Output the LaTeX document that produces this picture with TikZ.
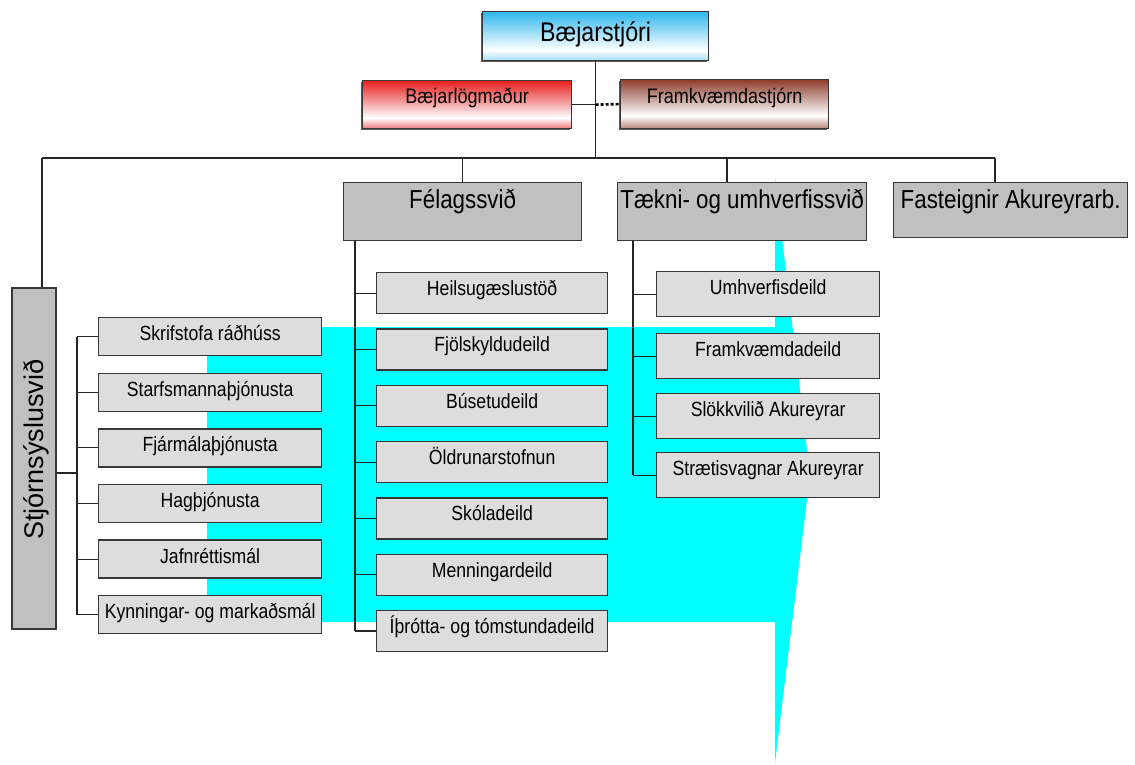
\documentclass[tikz,border=0pt]{standalone}
\usepackage{fontspec}
\setmainfont{Liberation Sans}[FakeStretch=0.86]
\newfontfamily\plainsans{Liberation Sans}
\usetikzlibrary{shadows}

\definecolor{aqua}{HTML}{00FFFF}
\definecolor{majorfill}{HTML}{C0C0C0}
\definecolor{subfill}{HTML}{DDDDDD}
\definecolor{edge}{HTML}{383838}
\definecolor{skyc}{HTML}{2DB6EE}
\definecolor{skyl}{HTML}{A8DDF6}
\definecolor{redc}{HTML}{E81E1E}
\definecolor{redl}{HTML}{F07878}
\definecolor{brownc}{HTML}{8E3E2E}
\definecolor{brownl}{HTML}{B8847A}

% vertical shadings: 25bp = bottom edge, 75bp = top edge
\pgfdeclareverticalshading{skyshade}{100bp}{color(0bp)=(skyl); color(25bp)=(skyl); color(36bp)=(white); color(75bp)=(skyc); color(100bp)=(skyc)}
\pgfdeclareverticalshading{redshade}{100bp}{color(0bp)=(redl); color(25bp)=(redl); color(36bp)=(white); color(75bp)=(redc); color(100bp)=(redc)}
\pgfdeclareverticalshading{brownshade}{100bp}{color(0bp)=(brownl); color(25bp)=(brownl); color(38bp)=(white); color(75bp)=(brownc); color(100bp)=(brownc)}

\tikzset{
  headbox/.style={draw=edge, line width=1.2pt, inner sep=0pt, anchor=north west,
    drop shadow={shadow xshift=-1.5pt, shadow yshift=-1.5pt, fill=black!65, opacity=1}},
  majorbox/.style={draw=edge, line width=1.3pt, fill=majorfill, inner sep=0pt, anchor=north west,
    font=\fontsize{26}{30}\selectfont, text height=26pt, text depth=32pt},
  subbox/.style={draw=edge, line width=1.3pt, fill=subfill, inner sep=0pt, anchor=north west,
    font=\fontsize{20.5}{24}\selectfont, text height=23pt},
  conn/.style={draw=black!85, line width=1.1pt},
  dotconn/.style={draw=black, line width=2.6pt, dash pattern=on 3pt off 2pt}
}

\begin{document}
\begin{tikzpicture}[x=1pt, y=-1pt]
\useasboundingbox[fill=white] (0,0) rectangle (1135,764);

% highlighted region behind the lower part of the chart
\fill[aqua] (207,327) -- (775,327) -- (775,178) -- (810,475) -- (775,763)
  -- (775,622) -- (207,622) -- cycle;

% top level
\node[headbox, shading=skyshade, minimum width=226pt, text height=30pt, text depth=19pt,
  font=\fontsize{27}{32}\selectfont] (bst) at (482,11) {Bæjarstjóri};
\node[headbox, shading=redshade, minimum width=209pt, text height=23pt, text depth=25pt,
  font=\fontsize{21}{25}\selectfont] (blm) at (362,80) {Bæjarlögmaður};
\node[headbox, shading=brownshade, minimum width=208pt, text height=24pt, text depth=25pt,
  font=\fontsize{21}{25}\selectfont] (fks) at (620,79) {Framkvæmdastjórn};

% divisions
\node[draw=edge, line width=1.3pt, fill=majorfill, inner sep=0pt, rotate=90,
  minimum width=341pt, text height=31pt, text depth=13pt,
  font=\plainsans\fontsize{27}{32}\selectfont] (stj) at (34,458.5) {\hspace*{18pt}Stjórnsýslusvið};
\node[majorbox, minimum width=238pt] (fel) at (343,182) {Félagssvið};
\node[majorbox, minimum width=249pt] (tek) at (617,182) {Tækni- og umhverfissvið};
\node[majorbox, minimum width=234pt, text depth=29pt] (fas) at (893,182) {Fasteignir Akureyrarb.};

% units under Stjórnsýslusvið
\node[subbox, minimum width=223pt, text depth=15pt] (s1) at (98,317.0) {Skrifstofa ráðhúss};
\node[subbox, minimum width=223pt, text depth=15pt] (s2) at (98,372.6) {Starfsmannaþjónusta};
\node[subbox, minimum width=223pt, text depth=15pt] (s3) at (98,428.2) {Fjármálaþjónusta};
\node[subbox, minimum width=223pt, text depth=15pt] (s4) at (98,483.8) {Hagþjónusta};
\node[subbox, minimum width=223pt, text depth=15pt] (s5) at (98,539.4) {Jafnréttismál};
\node[subbox, minimum width=223pt, text depth=15pt] (s6) at (98,595.0) {Kynningar- og markaðsmál};

% units under Félagssvið
\node[subbox, minimum width=231pt, text depth=18pt] (f1) at (376,272.0) {Heilsugæslustöð};
\node[subbox, minimum width=231pt, text depth=18pt] (f2) at (376,328.3) {Fjölskyldudeild};
\node[subbox, minimum width=231pt, text depth=18pt] (f3) at (376,384.6) {Búsetudeild};
\node[subbox, minimum width=231pt, text depth=18pt] (f4) at (376,440.9) {Öldrunarstofnun};
\node[subbox, minimum width=231pt, text depth=18pt] (f5) at (376,497.2) {Skóladeild};
\node[subbox, minimum width=231pt, text depth=18pt] (f6) at (376,553.5) {Menningardeild};
\node[subbox, minimum width=231pt, text depth=18pt] (f7) at (376,609.8) {Íþrótta- og tómstundadeild};

% units under Tækni- og umhverfissvið
\node[subbox, minimum width=223pt, text depth=22pt] (t1) at (656,271) {Umhverfisdeild};
\node[subbox, minimum width=223pt, text depth=22pt] (t2) at (656,333) {Framkvæmdadeild};
\node[subbox, minimum width=223pt, text depth=22pt] (t3) at (656,393) {Slökkvilið Akureyrar};
\node[subbox, minimum width=223pt, text depth=22pt] (t4) at (656,452) {Strætisvagnar Akureyrar};

% bus and junction points
\coordinate (busL) at (42,158);
\coordinate (busR) at (995,158);
\coordinate (dtek) at (727,158);
\coordinate (sj) at (77,473);
\coordinate (fv) at (355,0);
\coordinate (tv) at (633,0);

% top connectors
\draw[conn] (bst.south) -- (bst.south |- busL);
\draw[conn] (blm.east) -- (bst.south |- blm.east);
\draw[dotconn] (bst.south |- blm.east) -- (fks.west);
\draw[conn] (busL) -- (busR);
\draw[conn] (busL) -- (busL |- stj.east);
\draw[conn] (fel.north |- busL) -- (fel.north);
\draw[conn] (dtek) -- (dtek |- tek.north);
\draw[conn] (busR) -- (busR |- fas.north);

% Stjórnsýslusvið branch
\draw[conn] (sj -| stj.south) -- (sj);
\draw[conn] (sj |- s1.west) -- (sj |- s6.west);
\foreach \n in {s1,s2,s3,s4,s5,s6} \draw[conn] (sj |- \n.west) -- (\n.west);

% Félagssvið branch
\draw[conn] (fv |- fel.south) -- (fv |- f7.west);
\foreach \n in {f1,f2,f3,f4,f5,f6,f7} \draw[conn] (fv |- \n.west) -- (\n.west);

% Tækni- og umhverfissvið branch
\draw[conn] (tv |- tek.south) -- (tv |- t4.west);
\foreach \n in {t1,t2,t3,t4} \draw[conn] (tv |- \n.west) -- (\n.west);
\end{tikzpicture}
\end{document}
